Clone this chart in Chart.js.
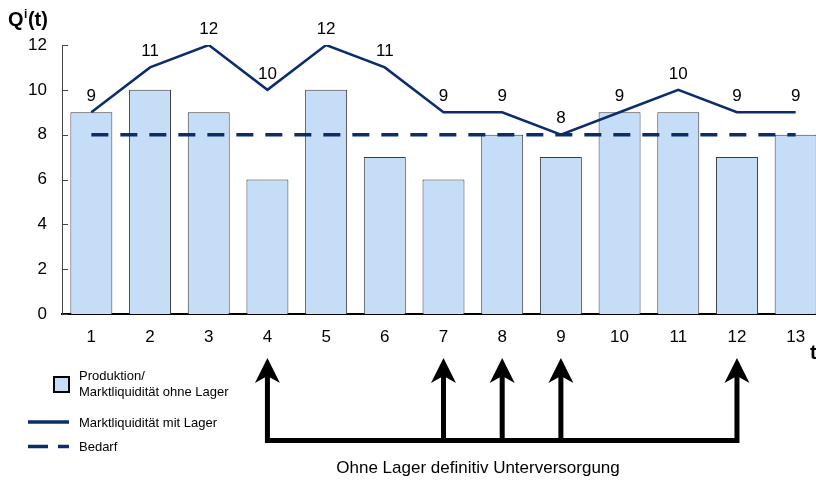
<!DOCTYPE html>
<html>
<head>
<meta charset="utf-8">
<script src="https://cdn.jsdelivr.net/npm/chart.js@4/dist/chart.umd.min.js"></script>
<style>
  html, body { margin: 0; padding: 0; background: #fff; width: 816px; height: 483px; overflow: hidden; }
  canvas { display: block; }
</style>
</head>
<body>
<canvas id="chart" width="830" height="483"></canvas>
<script>
// Periods on the time axis
const periods = ['1', '2', '3', '4', '5', '6', '7', '8', '9', '10', '11', '12', '13'];
// Production = market liquidity without storage
const production = [9, 10, 9, 6, 10, 7, 6, 8, 7, 9, 9, 7, 8];
// Market liquidity with storage
const withStorage = [9, 11, 12, 10, 12, 11, 9, 9, 8, 9, 10, 9, 9];
// Demand
const demand = [8, 8, 8, 8, 8, 8, 8, 8, 8, 8, 8, 8, 8];
// Periods with a definite shortage when there is no storage
const shortagePeriods = ['4', '7', '8', '9', '12'];
// Value axis
const yMin = 0, yMax = 12, yStep = 2;

const FONT = "'Liberation Sans', Arial, Helvetica, sans-serif";
const NAVY = '#0c2d6b';
const BAR_FILL = '#c6ddf8';
const BAR_EDGE = '#3c3c3c';

const overlay = {
  id: 'overlay',
  afterDatasetsDraw(chart) {
    const ctx = chart.ctx;
    const x = chart.scales.x;
    const y = chart.scales.y;
    const area = chart.chartArea;
    ctx.save();

    // small inward tick marks on the value axis
    ctx.strokeStyle = '#444';
    ctx.lineWidth = 1;
    for (let v = yMin; v <= yMax; v += yStep) {
      const py = Math.round(y.getPixelForValue(v)) + 0.5;
      ctx.beginPath();
      ctx.moveTo(area.left, py);
      ctx.lineTo(area.left + 6, py);
      ctx.stroke();
    }

    // value labels above the storage line
    const lineMeta = chart.getDatasetMeta(0);
    ctx.fillStyle = '#000';
    ctx.font = '17px ' + FONT;
    ctx.textAlign = 'center';
    ctx.textBaseline = 'middle';
    lineMeta.data.forEach((pt, i) => {
      ctx.fillText(String(withStorage[i]), pt.x, pt.y - 16);
    });

    // axis titles
    ctx.textAlign = 'left';
    ctx.textBaseline = 'alphabetic';
    ctx.font = 'bold 20px ' + FONT;
    ctx.fillText('Q', 8, 26);
    let qw = ctx.measureText('Q').width;
    ctx.font = 'bold 12px ' + FONT;
    ctx.fillText('i', 8 + qw + 0.5, 18);
    let iw = ctx.measureText('i').width;
    ctx.font = 'bold 20px ' + FONT;
    ctx.fillText('(t)', 8 + qw + iw + 1, 26);
    ctx.fillText('t', 810, 359);

    // legend
    const lx = 79;
    ctx.font = '13px ' + FONT;
    ctx.textBaseline = 'middle';
    ctx.fillStyle = BAR_FILL;
    ctx.fillRect(54, 377, 15, 15);
    ctx.strokeStyle = '#000';
    ctx.lineWidth = 2;
    ctx.strokeRect(54, 377, 15, 15);
    ctx.fillStyle = '#000';
    ctx.fillText('Produktion/', lx, 376);
    ctx.fillText('Marktliquidität ohne Lager', lx, 392);

    ctx.strokeStyle = NAVY;
    ctx.lineWidth = 3.5;
    ctx.beginPath();
    ctx.moveTo(28, 422);
    ctx.lineTo(69, 422);
    ctx.stroke();
    ctx.fillText('Marktliquidität mit Lager', lx, 423);

    ctx.beginPath();
    ctx.moveTo(28, 446.5);
    ctx.lineTo(48, 446.5);
    ctx.moveTo(58, 446.5);
    ctx.lineTo(69, 446.5);
    ctx.stroke();
    ctx.fillText('Bedarf', lx, 447);

    // shortage arrows joined by a bracket line
    const xs = shortagePeriods.map(p => x.getPixelForValue(periods.indexOf(p)));
    const baseY = 440.5;
    ctx.strokeStyle = '#000';
    ctx.fillStyle = '#000';
    ctx.lineWidth = 5;
    ctx.lineJoin = 'miter';
    ctx.beginPath();
    ctx.moveTo(xs[0], 376);
    ctx.lineTo(xs[0], baseY);
    ctx.lineTo(xs[xs.length - 1], baseY);
    ctx.lineTo(xs[xs.length - 1], 376);
    for (let k = 1; k < xs.length - 1; k++) {
      ctx.moveTo(xs[k], baseY);
      ctx.lineTo(xs[k], 376);
    }
    ctx.stroke();
    xs.forEach(px => {
      ctx.beginPath();
      ctx.moveTo(px, 358);
      ctx.lineTo(px + 12.5, 383);
      ctx.lineTo(px, 376);
      ctx.lineTo(px - 12.5, 383);
      ctx.closePath();
      ctx.fill();
    });

    ctx.font = '17px ' + FONT;
    ctx.textAlign = 'center';
    ctx.fillText('Ohne Lager definitiv Unterversorgung', 478, 468);

    ctx.restore();
  }
};

new Chart(document.getElementById('chart'), {
  type: 'bar',
  data: {
    labels: periods,
    datasets: [
      {
        type: 'line',
        label: 'Marktliquidität mit Lager',
        data: withStorage,
        borderColor: NAVY,
        borderWidth: 2.5,
        pointRadius: 0,
        tension: 0,
        fill: false,
        order: 0
      },
      {
        type: 'line',
        label: 'Bedarf',
        data: demand,
        borderColor: NAVY,
        borderWidth: 3.5,
        borderDash: [17, 12],
        pointRadius: 0,
        fill: false,
        order: 1
      },
      {
        type: 'bar',
        label: 'Produktion/ Marktliquidität ohne Lager',
        data: production,
        backgroundColor: BAR_FILL,
        borderColor: BAR_EDGE,
        borderWidth: 1,
        borderSkipped: 'bottom',
        categoryPercentage: 0.715,
        barPercentage: 1,
        order: 2
      }
    ]
  },
  options: {
    responsive: false,
    animation: false,
    layout: { padding: { left: 0, right: 5, top: 45, bottom: 0 } },
    plugins: {
      legend: { display: false },
      tooltip: { enabled: false }
    },
    scales: {
      x: {
        grid: { display: false, drawTicks: false },
        border: { display: true, color: '#000', width: 2 },
        ticks: { color: '#000', font: { family: FONT, size: 17 }, padding: 13, maxRotation: 0 },
        afterFit(scale) { scale.height = 169; }
      },
      y: {
        min: yMin,
        max: yMax,
        grid: { display: false, drawTicks: false },
        border: { display: true, color: '#444', width: 1 },
        ticks: { stepSize: yStep, color: '#000', font: { family: FONT, size: 17 }, padding: 15 },
        afterFit(scale) { scale.width = 62; }
      }
    }
  },
  plugins: [overlay]
});
</script>
</body>
</html>
